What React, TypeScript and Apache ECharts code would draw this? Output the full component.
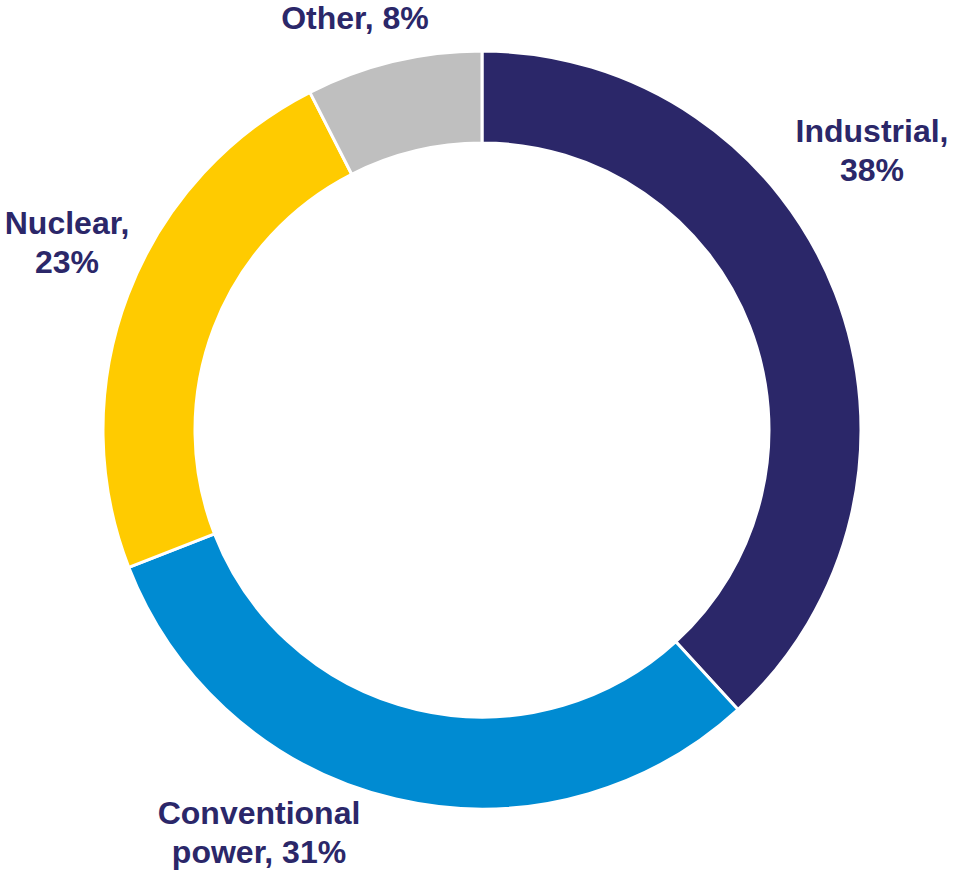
import React, { useEffect, useRef } from "react";
import * as echarts from "echarts";

const categories = ["Industrial", "Conventional power", "Nuclear", "Other"];
const values = [38.2, 30.9, 23.4, 7.5];
const percentLabels = ["38%", "31%", "23%", "8%"];
const labelTexts = ["Industrial,\n38%", "Conventional\npower, 31%", "Nuclear,\n23%", "Other, 8%"];
const colors = ["#2B2769", "#008BD2", "#FFCB00", "#BFBFBF"];
const labelPositions = [
  [872, 150],
  [259, 832],
  [67, 242],
  [355, 18],
];

export default function App() {
  const ref = useRef<HTMLDivElement>(null);
  useEffect(() => {
    if (!ref.current) return;
    const chart = echarts.init(ref.current, null, { renderer: "svg" });
    chart.setOption({
      animation: false,
      backgroundColor: "#ffffff",
      series: [
        {
          type: "pie",
          center: [482, 430],
          radius: [287, 379],
          startAngle: 90,
          clockwise: true,
          avoidLabelOverlap: false,
          itemStyle: { borderColor: "#ffffff", borderWidth: 3 },
          label: {
            show: true,
            position: "outside",
            formatter: (p: any) => labelTexts[p.dataIndex],
            color: "#2B2769",
            fontFamily: "Liberation Sans, Arial, sans-serif",
            fontWeight: "bold",
            fontSize: 32,
            lineHeight: 39,
            align: "center",
          },
          labelLine: { show: false },
          labelLayout: (params: any) => {
            const pos = labelPositions[params.dataIndex];
            return { x: pos[0], y: pos[1], align: "center", verticalAlign: "middle" };
          },
          data: categories.map((c, i) => ({
            name: c,
            value: values[i],
            percentLabel: percentLabels[i],
            itemStyle: { color: colors[i] },
          })),
        },
      ],
    });
    return () => chart.dispose();
  }, []);
  return (
    <div
      ref={ref}
      style={{ position: "fixed", left: 0, top: 0, width: 955, height: 870 }}
    />
  );
}
